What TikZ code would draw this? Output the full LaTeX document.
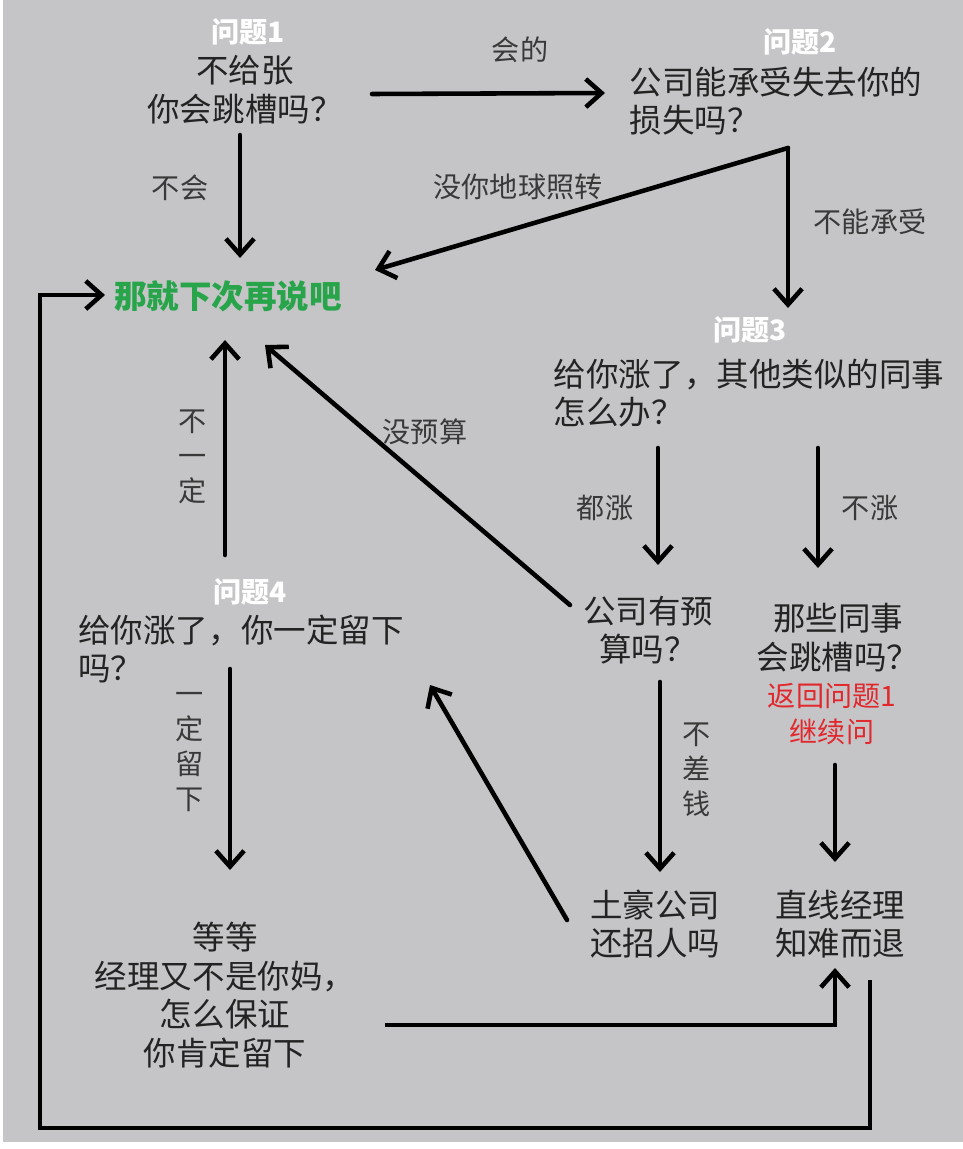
\documentclass[tikz,border=0pt]{standalone}
\usepackage{fontspec}
\setmainfont{Noto Sans CJK SC}
\usepackage{xcolor}
\usepackage{tikz}
\usetikzlibrary{arrows.meta, calc}
\definecolor{paper}{RGB}{197,197,200}
\definecolor{inkgray}{RGB}{35,35,35}
\definecolor{leafgreen}{RGB}{40,165,75}
\definecolor{warnred}{RGB}{225,40,45}

\begin{document}
\begin{tikzpicture}[x=0.02cm, y=-0.02cm,
	txt/.style={inner sep=0pt, text=inkgray, font=\fontsize{18.5}{22}\selectfont, align=center},
	lbl/.style={inner sep=0pt, text=inkgray!90, font=\fontsize{16}{20}\selectfont, align=center},
	tag/.style={inner sep=0pt, text=white, font=\bfseries\fontsize{16}{19}\selectfont},
	arr/.style={line width=2.6pt, line cap=round, -{Straight Barb[length=9pt,width=16pt]}}]
	\useasboundingbox (0,0) rectangle (963,1149);
	\fill[white] (0,0) rectangle (963,1149);
	\fill[paper] (3,0) rectangle (963,1142);

	\node[tag] (t1) at (248,32) {问题1};
	\node[txt] (q1) at (245,90) {不给张\\你会跳槽吗？};
	\node[tag] (t2) at (800,42) {问题2};
	\node[txt, align=left] (q2) at (776,101) {公司能承受失去你的\\损失吗？};
	\node[txt, font=\bfseries\fontsize{18.5}{22}\selectfont, text=leafgreen] (n0) at (228,296) {那就下次再说吧};
	\node[tag] (t3) at (750,330) {问题3};
	\node[txt, align=left] (q3) at (749,393) {给你涨了，其他类似的同事\\怎么办？};
	\node[txt] (bud) at (648,630) {公司有预\\算吗？};
	\node[txt] (col) at (838,638) {那些同事\\会跳槽吗？};
	\node[lbl, text=warnred] (back) at (832,714) {返回问题1\\继续问};
	\node[tag] (t4) at (250,592) {问题4};
	\node[txt, align=left] (q4) at (241,649) {给你涨了，你一定留下\\吗？};
	\node[txt] (tuh) at (655,924) {土豪公司\\还招人吗};
	\node[txt] (zhi) at (840,924) {直线经理\\知难而退};
	\node[txt] (wait) at (225,995) {等等\\经理又不是你妈，\\怎么保证\\你肯定留下};

	\node[lbl] (l1) at (520,50) {会的};
	\node[lbl] (l2) at (518,187) {没你地球照转};
	\node[lbl] (l3) at (870,222) {不能承受};
	\node[lbl] (l4) at (180,188) {不会};
	\node[lbl] (l5) at (425,432) {没预算};
	\node[lbl] (l6) at (193,457) {不\\一\\定};
	\node[lbl] (l7) at (605,508) {都涨};
	\node[lbl] (l8) at (870,508) {不涨};
	\node[lbl] (l9) at (697,770) {不\\差\\钱};
	\node[lbl] (l10) at (190,752) {一\\定\\留\\下};

	\draw[arr] ($(q1)+(127,4)$) -- ($(q2)+(-171,-8)$);
	\draw[arr] ($(q1)+(-5,45)$) -- ($(n0)+(12,-38)$);
	\draw[arr] ($(q2)+(12,47)$) -- ($(n0)+(147,-26)$);
	\draw[arr] ($(q2)+(12,47)$) -- ($(t3)+(38,-22)$);
	\draw[arr] ($(q3)+(-91,55)$) -- ($(bud)+(10,-65)$);
	\draw[arr] ($(q3)+(69,55)$) -- ($(col)+(-20,-70)$);
	\draw[arr] ($(bud)+(-78,-25)$) -- ($(n0)+(37,49)$);
	\draw[arr] ($(t4)+(-25,-37)$) -- ($(n0)+(-3,44)$);
	\draw[arr] ($(bud)+(12,52)$) -- ($(tuh)+(5,-52)$);
	\draw[arr] ($(back)+(3,51)$) -- ($(zhi)+(-5,-62)$);
	\draw[arr] ($(q4)+(-11,20)$) -- ($(wait)+(5,-125)$);
	\draw[arr] ($(tuh)+(-88,-4)$) -- ($(q4)+(189,36)$);
	\draw[arr, line cap=butt] ($(wait)+(160,30)$) -| ($(zhi)+(-5,44)$);
	\draw[arr, line cap=butt] ($(zhi)+(30,56)$) |- ($(n0)+(-188,832)$) |- ($(n0)+(-123,-1)$);
\end{tikzpicture}
\end{document}
